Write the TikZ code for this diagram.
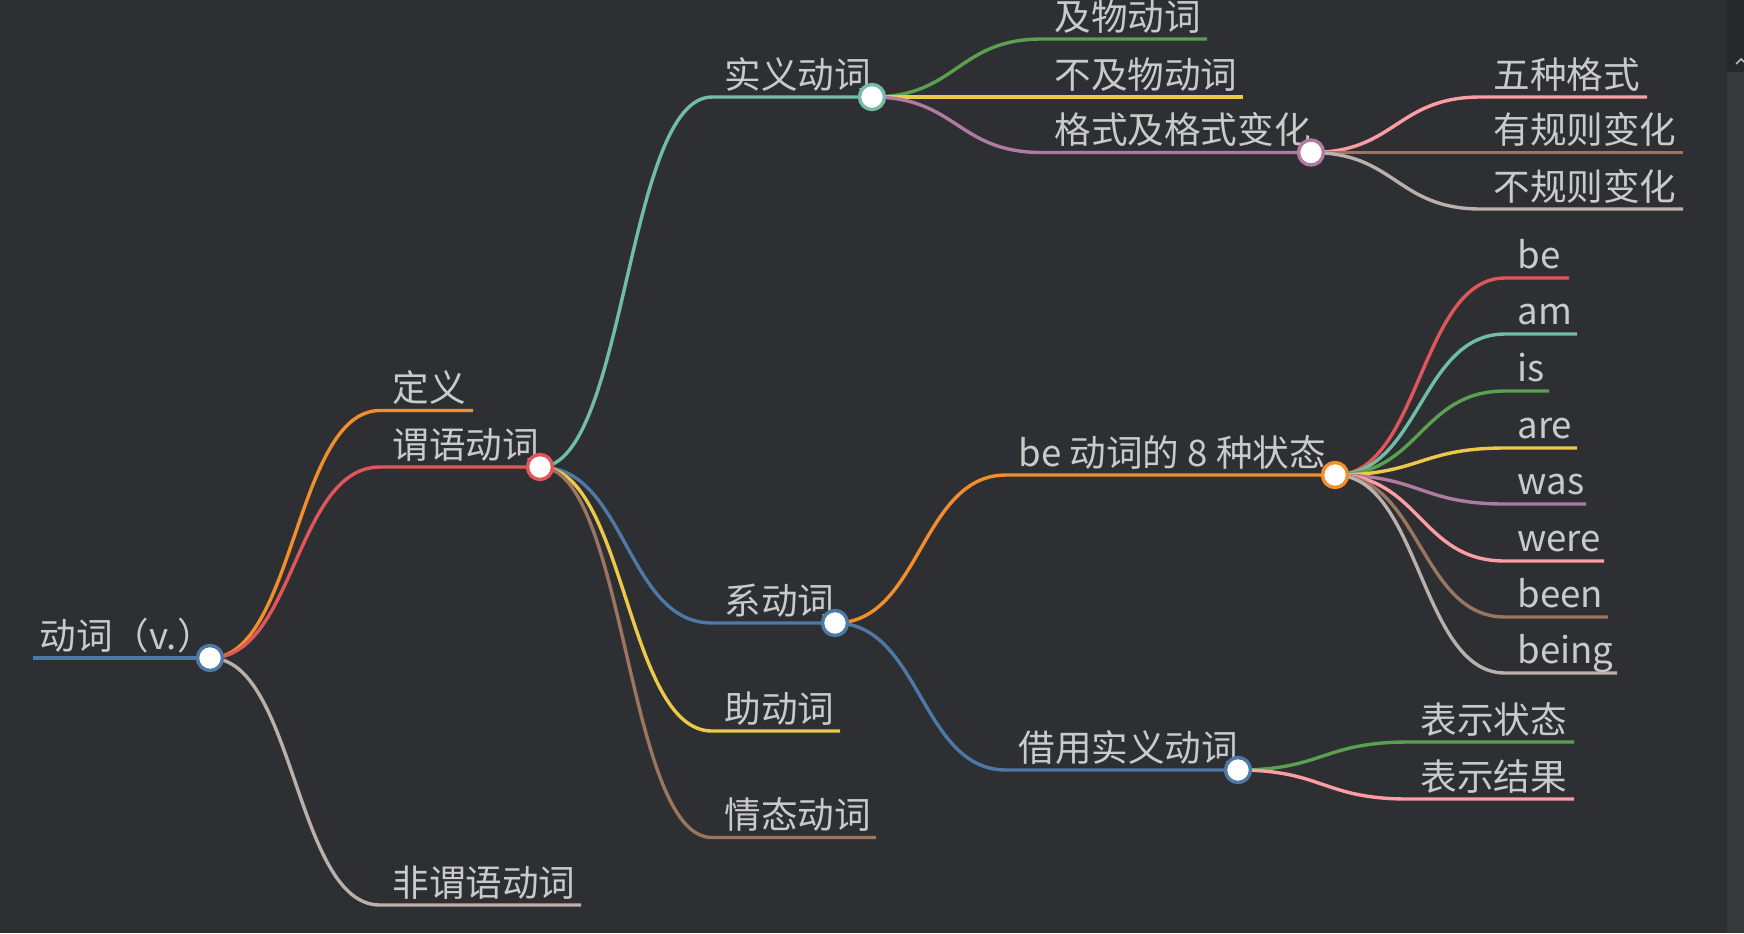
\documentclass[tikz,border=0pt]{standalone}
\usepackage{fontspec}
\setmainfont{Noto Sans CJK SC}
\usetikzlibrary{calc}
\definecolor{bgc}{HTML}{2E2F33}
\definecolor{stripc}{HTML}{34393A}
\definecolor{striptop}{HTML}{26282A}
\definecolor{txt}{HTML}{CACACA}
\definecolor{tblue}{HTML}{4E79A7}
\definecolor{torange}{HTML}{F28E2B}
\definecolor{tred}{HTML}{E15759}
\definecolor{tteal}{HTML}{72BDA8}
\definecolor{tgreen}{HTML}{59A14F}
\definecolor{tyellow}{HTML}{EDC948}
\definecolor{tpurple}{HTML}{B07AA1}
\definecolor{tpink}{HTML}{FF9DA7}
\definecolor{tbrown}{HTML}{9C755F}
\definecolor{tgray}{HTML}{BAB0AC}
\pgfdeclarelayer{links}
\pgfsetlayers{links,main}
\newcommand\mmlink[4]{%
  \draw[link=#4] let \p1=(#1.center), \p2=(#2) in
    (#1.center) .. controls ({(\x1+\x2)/2},\y1) and ({(\x1+\x2)/2},\y2) .. (#2) -- (#3);}
\begin{document}
\begin{tikzpicture}[x=0.5pt,y=-0.5pt,
  lbl/.style={anchor=base west, inner sep=0pt, text=txt, font=\fontsize{18.3pt}{20pt}\selectfont},
  dot/.style={circle, draw=#1, fill=white, line width=1.7pt, minimum size=12.5pt, inner sep=0pt},
  link/.style={draw=#1, line width=1.7pt}]
\useasboundingbox (0,0) rectangle (1744,933);
% root
\node[lbl] (tRoot) at (39,649) {动词（v.）};
\coordinate (sRoot) at (33,658);
\node[dot=tblue] (kRoot) at (210,658) {};
% level 1
\node[lbl] (tDef) at (392,401.5) {定义};
\coordinate (sDef) at (380,410.5); \coordinate (eDef) at (473,410.5);
\node[lbl] (tPred) at (392,458) {谓语动词};
\coordinate (sPred) at (380,467); \node[dot=tred] (kPred) at (540,467) {};
\node[lbl] (tNon) at (392,896) {非谓语动词};
\coordinate (sNon) at (380,905); \coordinate (eNon) at (581,905);
% level 2
\node[lbl] (tShi) at (724,88) {实义动词};
\coordinate (sShi) at (712,97); \node[dot=tteal] (kShi) at (872,97) {};
\node[lbl] (tXi) at (724,614) {系动词};
\coordinate (sXi) at (712,623); \node[dot=tblue] (kXi) at (835,623) {};
\node[lbl] (tZhu) at (724,722) {助动词};
\coordinate (sZhu) at (712,731); \coordinate (eZhu) at (840,731);
\node[lbl] (tQing) at (724,828.5) {情态动词};
\coordinate (sQing) at (712,837.5); \coordinate (eQing) at (876,837.5);
% level 3 under 实义动词
\node[lbl] (tJi) at (1054,30) {及物动词};
\coordinate (sJi) at (1042,39); \coordinate (eJi) at (1207,39);
\node[lbl] (tBuji) at (1054,88) {不及物动词};
\coordinate (sBuji) at (1042,97); \coordinate (eBuji) at (1243,97);
\node[lbl] (tGe) at (1054,143.5) {格式及格式变化};
\coordinate (sGe) at (1042,152.5); \node[dot=tpurple] (kGe) at (1311,152.5) {};
% level 4 under 格式
\node[lbl] (tWu) at (1493,88) {五种格式};
\coordinate (sWu) at (1481,97); \coordinate (eWu) at (1647,97);
\node[lbl] (tYou) at (1493,143.5) {有规则变化};
\coordinate (sYou) at (1481,152.5); \coordinate (eYou) at (1683,152.5);
\node[lbl] (tBu) at (1493,200) {不规则变化};
\coordinate (sBu) at (1481,209); \coordinate (eBu) at (1683,209);
% level 3 under 系动词
\node[lbl] (tBe) at (1018,466) {be 动词的 8 种状态};
\coordinate (sBe) at (1006,475); \node[dot=torange] (kBe) at (1335,475) {};
\node[lbl] (tJie) at (1018,761) {借用实义动词};
\coordinate (sJie) at (1006,770); \node[dot=tblue] (kJie) at (1238,770) {};
% level 4 under 借用
\node[lbl] (tZt) at (1420,733) {表示状态};
\coordinate (sZt) at (1408,742); \coordinate (eZt) at (1574,742);
\node[lbl] (tJg) at (1420,790) {表示结果};
\coordinate (sJg) at (1408,799); \coordinate (eJg) at (1574,799);
% level 4 under be
\node[lbl] (tb1) at (1517,268) {be};    \coordinate (sb1) at (1505,278); \coordinate (eb1) at (1569,278);
\node[lbl] (tb2) at (1517,324) {am};    \coordinate (sb2) at (1505,334); \coordinate (eb2) at (1577,334);
\node[lbl] (tb3) at (1517,381) {is};    \coordinate (sb3) at (1505,391); \coordinate (eb3) at (1549,391);
\node[lbl] (tb4) at (1517,438) {are};   \coordinate (sb4) at (1505,448); \coordinate (eb4) at (1577,448);
\node[lbl] (tb5) at (1517,494) {was};   \coordinate (sb5) at (1505,504); \coordinate (eb5) at (1586,504);
\node[lbl] (tb6) at (1517,551) {were};  \coordinate (sb6) at (1505,561); \coordinate (eb6) at (1604,561);
\node[lbl] (tb7) at (1517,607) {been};  \coordinate (sb7) at (1505,617); \coordinate (eb7) at (1608,617);
\node[lbl] (tb8) at (1517,663) {being}; \coordinate (sb8) at (1505,673); \coordinate (eb8) at (1617,673);

\begin{pgfonlayer}{links}
\fill[bgc] (0,0) rectangle (1744,933);
\fill[stripc] (1727,0) rectangle (1744,933);
\fill[striptop] (1727,0) rectangle (1744,72);
\draw[txt, line width=0.7pt] (1736,64) -- (1741,59) -- (1744,62);
\draw[link=tblue] (sRoot) -- (kRoot.center);
\mmlink{kRoot}{sDef}{eDef}{torange}
\mmlink{kRoot}{sPred}{kPred.center}{tred}
\mmlink{kRoot}{sNon}{eNon}{tgray}
\mmlink{kPred}{sShi}{kShi.center}{tteal}
\mmlink{kPred}{sXi}{kXi.center}{tblue}
\mmlink{kPred}{sZhu}{eZhu}{tyellow}
\mmlink{kPred}{sQing}{eQing}{tbrown}
\mmlink{kShi}{sJi}{eJi}{tgreen}
\mmlink{kShi}{sBuji}{eBuji}{tyellow}
\mmlink{kShi}{sGe}{kGe.center}{tpurple}
\mmlink{kGe}{sWu}{eWu}{tpink}
\mmlink{kGe}{sYou}{eYou}{tbrown}
\mmlink{kGe}{sBu}{eBu}{tgray}
\mmlink{kXi}{sBe}{kBe.center}{torange}
\mmlink{kXi}{sJie}{kJie.center}{tblue}
\mmlink{kJie}{sZt}{eZt}{tgreen}
\mmlink{kJie}{sJg}{eJg}{tpink}
\mmlink{kBe}{sb1}{eb1}{tred}
\mmlink{kBe}{sb2}{eb2}{tteal}
\mmlink{kBe}{sb3}{eb3}{tgreen}
\mmlink{kBe}{sb4}{eb4}{tyellow}
\mmlink{kBe}{sb5}{eb5}{tpurple}
\mmlink{kBe}{sb6}{eb6}{tpink}
\mmlink{kBe}{sb7}{eb7}{tbrown}
\mmlink{kBe}{sb8}{eb8}{tgray}
\end{pgfonlayer}
\end{tikzpicture}
\end{document}
